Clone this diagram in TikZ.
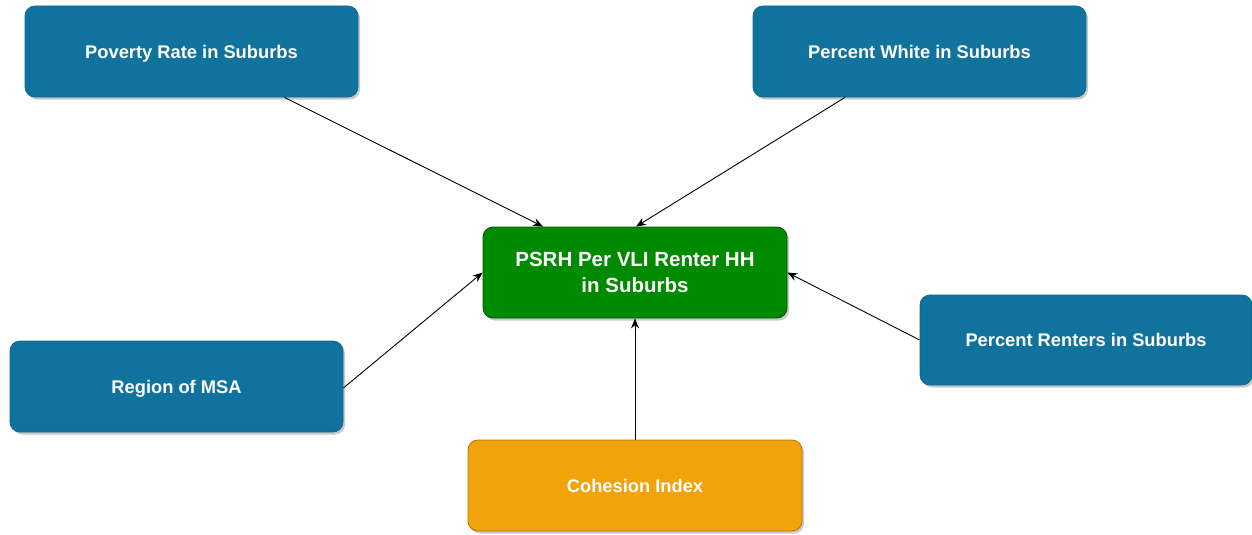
\documentclass[tikz,border=0pt]{standalone}
\usepackage{fontspec}
\setmainfont{Liberation Sans}
\usetikzlibrary{shadows,arrows.meta,calc}
\definecolor{boxblue}{HTML}{10739E}
\definecolor{boxblueline}{HTML}{0E6A92}
\definecolor{boxgreen}{HTML}{008A00}
\definecolor{boxgreenline}{HTML}{005700}
\definecolor{boxorange}{HTML}{F0A30A}
\definecolor{boxorangeline}{HTML}{BD7000}
\tikzset{
  factor/.style={rectangle, rounded corners=10pt, minimum width=333pt, minimum height=91pt,
    draw=boxblueline, fill=boxblue, line width=0.8pt, text=white,
    font=\bfseries\fontsize{18.3}{22}\selectfont, align=center, text depth=0pt,
    drop shadow={shadow xshift=2pt, shadow yshift=-2.5pt, opacity=0.35, fill=black!60}},
  outcome/.style={factor, minimum width=304pt, draw=boxgreenline, fill=boxgreen,
    font=\bfseries\fontsize{20.5}{26}\selectfont},
  moderator/.style={factor, minimum width=334pt, draw=boxorangeline, fill=boxorange},
  link/.style={-{Stealth[length=10pt,width=8pt]}, line width=0.9pt, black}
}
\begin{document}
\begin{tikzpicture}[x=1pt,y=-1pt]
  \useasboundingbox (0,0) rectangle (1252,535);
  \node[factor] (pov) at (191.5,51.5) {Poverty Rate in Suburbs};
  \node[factor] (white) at (919.5,51.5) {Percent White in Suburbs};
  \node[outcome] (psrh) at (635,272.5) {PSRH Per VLI Renter HH\\in Suburbs};
  \node[factor] (region) at (176.5,386.5) {Region of MSA};
  \node[factor, minimum width=332pt, minimum height=90pt] (rent) at (1086,340) {Percent Renters in Suburbs};
  \node[moderator] (coh) at (635,485.5) {Cohesion Index};

  \draw[link] ([xshift=93pt]pov.south) -- ([xshift=-92pt]psrh.north);
  \draw[link] ([xshift=-74.5pt]white.south) -- ([xshift=1pt]psrh.north);
  \draw[link] ([yshift=-1.5pt]region.east) -- (psrh.west);
  \draw[link] (rent.west) -- (psrh.east);
  \draw[link] (coh.north) -- (psrh.south);
\end{tikzpicture}
\end{document}
